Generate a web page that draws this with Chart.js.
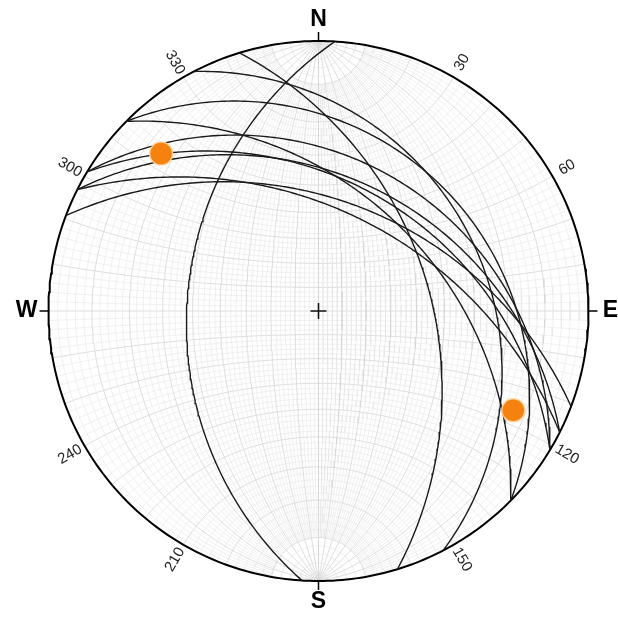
<!DOCTYPE html>
<html>
<head>
<meta charset="utf-8">
<script src="https://cdn.jsdelivr.net/npm/chart.js@4.4.0/dist/chart.umd.min.js"></script>
<style>
  body { margin: 0; background: #fff; }
  #wrap { width: 618px; height: 621px; }
</style>
</head>
<body>
<div id="wrap"><canvas id="net"></canvas></div>
<script>
// planes, strike / dip (right hand rule)
const strikes = [183.5, 343, 332.5, 314.6, 314.6, 301, 301, 296.7, 296.7, 290.7];
const dips = [38, 45, 26, 43, 24, 31, 39, 37, 49, 45];
// poles, trend / plunge
const poleTrend = [315, 117];
const polePlunge = [11, 12];
// rim labels
const degLabels = [30, 60, 120, 150, 210, 240, 300, 330];
const cardinals = ['N', 'E', 'S', 'W'];
const cardinalAz = [0, 90, 180, 270];

const rad = d => d * Math.PI / 180;
// lower hemisphere, equal angle (Wulff)
const proj = v => ({ x: v[0] / (1 + v[2]), y: v[1] / (1 + v[2]) });

const greatCircle = (strike, dip, a0 = 0, a1 = 180, step = 1) => {
    const s = rad(strike), dd = rad(strike + 90), d = rad(dip);
    const sv = [Math.sin(s), Math.cos(s), 0];
    const dv = [Math.cos(d) * Math.sin(dd), Math.cos(d) * Math.cos(dd), Math.sin(d)];
    const pts = [];
    for (let a = a0; a <= a1 + 1e-9; a += step) {
        const c = Math.cos(rad(a)), n = Math.sin(rad(a));
        pts.push(proj([c * sv[0] + n * dv[0], c * sv[1] + n * dv[1], c * sv[2] + n * dv[2]]));
    }
    return pts;
};
// small circle round the N-S axis
const smallCircle = (alpha, step = 2) => {
    const pts = [];
    for (let b = 0; b <= 180; b += step) {
        pts.push(proj([Math.sin(rad(alpha)) * Math.cos(rad(b)), Math.cos(rad(alpha)), Math.sin(rad(alpha)) * Math.sin(rad(b))]));
    }
    return pts;
};

const line = (data, color, width, order) => ({
    data, showLine: true, pointRadius: 0, borderColor: color, borderWidth: width,
    fill: false, order, tension: 0
});

const datasets = [];

// poles
datasets.push({
    data: poleTrend.map((t, i) => {
        const p = rad(polePlunge[i]);
        return proj([Math.cos(p) * Math.sin(rad(t)), Math.cos(p) * Math.cos(rad(t)), Math.sin(p)]);
    }),
    pointRadius: 11.5, backgroundColor: '#f5820f', borderColor: 'rgba(255,214,160,0.9)',
    borderWidth: 1.5, order: 0
});
// centre cross
datasets.push({ data: [{ x: 0, y: 0 }], pointStyle: 'cross', pointRadius: 8, borderColor: '#111', borderWidth: 1.6, order: 0 });
// planes
strikes.forEach((s, i) => datasets.push(line(greatCircle(s, dips[i]), '#1a1a1a', 1.4, 1)));
// primitive
const rim = [];
for (let a = 0; a <= 360; a += 1) rim.push({ x: Math.sin(rad(a)), y: Math.cos(rad(a)) });
datasets.push({ ...line(rim, '#000', 2, 2), clip: 4 });

// wulff net
for (let d = 2; d <= 90; d += 2) {
    const major = d % 10 === 0;
    const col = major ? '#d6d6d6' : '#e6e6e6';
    const a0 = major ? 0 : 10, a1 = major ? 180 : 170;
    datasets.push(line(greatCircle(0, d, a0, a1, 2), col, major ? 0.8 : 0.6, 3));
    if (d < 90) datasets.push(line(greatCircle(180, d, a0, a1, 2), col, major ? 0.8 : 0.6, 3));
}
for (let a = 2; a < 180; a += 2) {
    const major = a % 10 === 0;
    datasets.push(line(smallCircle(a), major ? '#d6d6d6' : '#e6e6e6', major ? 0.8 : 0.6, 3));
}

const rimLabels = {
    id: 'rimLabels',
    afterDraw(chart) {
        const { ctx, scales: { x, y } } = chart;
        const cx = x.getPixelForValue(0), cy = y.getPixelForValue(0);
        const R = x.getPixelForValue(1) - cx;
        ctx.save();
        ctx.textAlign = 'center';
        ctx.textBaseline = 'middle';
        cardinals.forEach((t, i) => {
            const sx = Math.sin(rad(cardinalAz[i])), sy = -Math.cos(rad(cardinalAz[i]));
            ctx.strokeStyle = '#000';
            ctx.lineWidth = 1.5;
            ctx.beginPath();
            ctx.moveTo(cx + sx * R, cy + sy * R);
            ctx.lineTo(cx + sx * (R + 9), cy + sy * (R + 9));
            ctx.stroke();
            ctx.font = 'bold 23px "Liberation Sans", Arial, sans-serif';
            ctx.fillStyle = '#000';
            ctx.fillText(t, cx + sx * (R + 22), cy + sy * (R + 21));
        });
        ctx.font = '15px "Liberation Sans", Arial, sans-serif';
        ctx.fillStyle = '#222';
        degLabels.forEach(az => {
            const px = cx + Math.sin(rad(az)) * (R + 17), py = cy - Math.cos(rad(az)) * (R + 17);
            ctx.save();
            ctx.translate(px, py);
            ctx.rotate(rad(az < 180 ? az - 90 : az - 270));
            ctx.fillText(String(az), 0, 0);
            ctx.restore();
        });
        ctx.restore();
    }
};

new Chart(document.getElementById('net'), {
    type: 'scatter',
    data: { datasets },
    options: {
        responsive: true,
        maintainAspectRatio: false,
        animation: false,
        events: [],
        layout: { padding: { left: 48.5, right: 29.5, top: 41, bottom: 40 } },
        scales: {
            x: { type: 'linear', min: -1, max: 1, display: false },
            y: { type: 'linear', min: -1, max: 1, display: false }
        },
        plugins: { legend: { display: false }, tooltip: { enabled: false } }
    },
    plugins: [rimLabels]
});
</script>
</body>
</html>
